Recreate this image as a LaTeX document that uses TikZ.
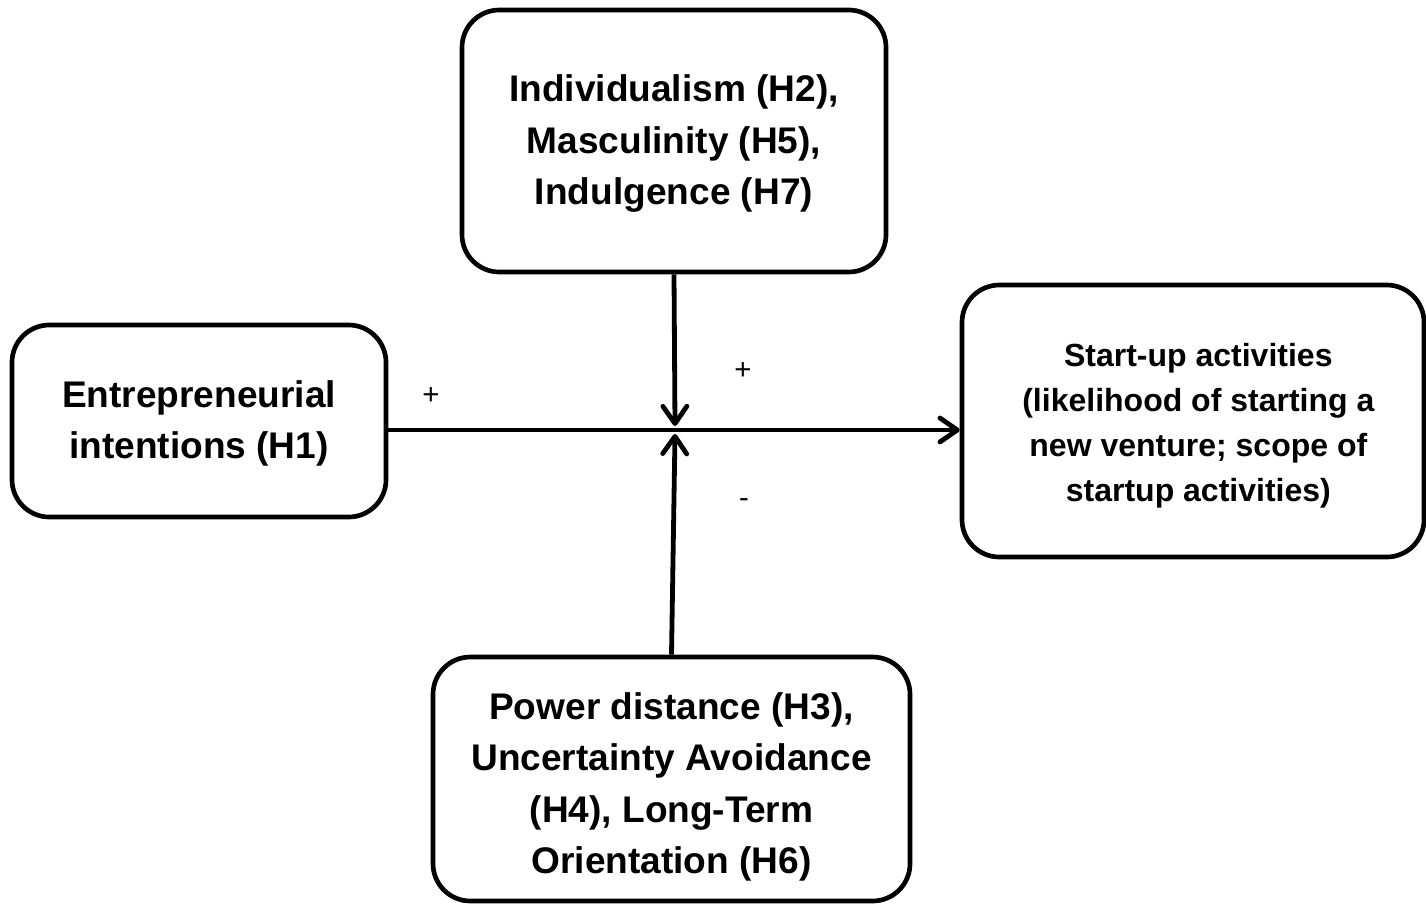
\documentclass[tikz,border=0pt]{standalone}
\usepackage{fontspec}
\setmainfont{Liberation Sans}
\usetikzlibrary{arrows.meta}
\begin{document}
\begin{tikzpicture}[x=0.75pt,y=-0.75pt,
  box/.style={draw=black, line width=3.5pt, rounded corners=28pt, align=center, inner sep=0pt, fill=white},
  bigtxt/.style={font=\fontsize{27.8pt}{38.6pt}\selectfont\bfseries},
  smalltxt/.style={font=\fontsize{24pt}{33.75pt}\selectfont\bfseries},
  conn/.style={line width=3.6pt, -{Straight Barb[length=13pt,width=18pt,round]}},
  sign/.style={font=\fontsize{22pt}{24pt}\selectfont, inner sep=0pt}]
\useasboundingbox (0,0) rectangle (1426,903);
\node[box, bigtxt, minimum width={424*0.75pt}, minimum height={262*0.75pt}] (top) at (674,141)
  {\rule{0pt}{24pt}Individualism (H2),\\Masculinity (H5),\\Indulgence (H7)};
\node[box, bigtxt, minimum width={374*0.75pt}, minimum height={192*0.75pt}] (left) at (199,421)
  {\rule{0pt}{24pt}Entrepreneurial\\intentions (H1)};
\node[box, smalltxt, minimum width={462*0.75pt}, minimum height={272*0.75pt}] (right) at (1193,421)
  {\rule{0pt}{24.5pt}\hspace*{8pt}Start-up activities\\\hspace*{8pt}(likelihood of starting a\\\hspace*{8pt}new venture; scope of\\\hspace*{8pt}startup activities)};
\node[box, bigtxt, minimum width={477*0.75pt}, minimum height={244*0.75pt}] (bottom) at (671.5,779)
  {\rule{0pt}{32pt}Power distance (H3),\\Uncertainty Avoidance\\(H4), Long-Term\\Orientation (H6)};
\coordinate (c) at (675,430);
\coordinate (cu) at (675,426);
\coordinate (cd) at (675,434);
\draw[conn] (left.east |- c) -- (right.west |- c);
\draw[conn] (top.south) -- (cu);
\draw[conn] (bottom.north) -- (cd);
\node[sign] (p1) at (431,396) {+};
\node[sign] (p2) at (743,371) {+};
\node[sign] (m1) at (744,503) {-};
\end{tikzpicture}
\end{document}
